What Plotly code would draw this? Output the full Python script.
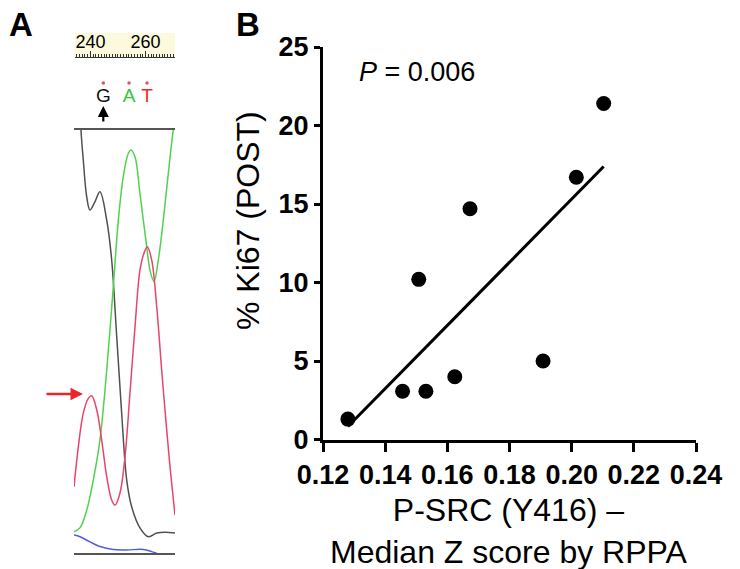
import numpy as np
import plotly.graph_objects as go

FONT = "Liberation Sans"

# Panel A: chromatogram traces (scan position, signal intensity)
g_scan = [5.8, 6.9, 9.2, 12.6, 15.8, 20.8, 25.7, 32.4, 37.3, 42.3, 47.2, 52.2, 57.1, 65.3, 73.6, 81.9, 90.1, 100]
g_int = [1080, 1000, 929, 842, 811, 831, 854, 787, 693, 512, 331, 173, 110, 60, 39, 48, 50, 48]
a_scan = [0, 5.9, 12.6, 19.1, 25.7, 32.4, 38.9, 43.9, 48.8, 53.8, 56.4, 60.4, 65.3, 72.0, 75.2, 79.2, 83.5, 88.4, 93.4, 98.3, 100.9]
a_int = [51, 60, 102, 173, 268, 433, 630, 787, 890, 945, 953, 937, 850, 724, 669, 642, 693, 787, 898, 1000, 1035]
t_scan = [0, 4.3, 9.2, 14.2, 17.5, 22.5, 27.4, 32.4, 37.3, 40.6, 45.5, 50.5, 55.4, 60.4, 65.3, 69.3, 72.6, 76.9, 81.9, 86.8, 91.8, 95.7, 100]
t_int = [157, 252, 331, 366, 372, 339, 268, 181, 126, 114, 142, 228, 378, 535, 669, 709, 724, 693, 583, 433, 291, 189, 90]
c_scan = [0, 5.9, 15.8, 25.7, 38.9, 52.2, 68.6, 76.9, 81.9]
c_int = [43, 39, 27, 16, 9, 8, 9, 4, 0]

base_letters = ["G", "A", "T"]
base_scan = [29, 54.5, 72.3]
base_colors = ["#111111", "#33c633", "#ee2b2b"]
ruler_labels = [240, 260]

# Panel B: P-SRC vs Ki67
psrc = [0.128, 0.1456, 0.1531, 0.1508, 0.1624, 0.1673, 0.1908, 0.2015, 0.2103]
ki67 = [1.3, 3.07, 3.07, 10.2, 4.0, 14.7, 5.0, 16.7, 21.4]
x_ticks = [0.12, 0.14, 0.16, 0.18, 0.20, 0.22, 0.24]

# page has an 8px body margin, so the figure is shrunk and positions offset
OFF = 8
W, H = 740 - OFF, 569 - OFF
CALL_LETTER_ROW, CALL_DOT_ROW = 0.37, 0.77  # rows inside the base-call strip


def px(x):
    return (x - OFF) / W


def py(y):
    return 1 - (y - OFF) / H


fig = go.Figure()

for xs, ys, color in [
    (c_scan, c_int, "#4f5fd8"),
    (g_scan, g_int, "#505050"),
    (a_scan, a_int, "#4fd24f"),
    (t_scan, t_int, "#e8446e"),
]:
    fig.add_trace(go.Scatter(
        x=xs, y=ys, mode="lines", line=dict(color=color, width=1.5, shape="spline"),
        xaxis="x2", yaxis="y2", hoverinfo="skip", showlegend=False,
    ))

# base calls above the peaks, in their own strip sharing the scan axis scale
fig.add_trace(go.Scatter(
    x=base_scan, y=[CALL_LETTER_ROW] * len(base_scan), mode="text", text=base_letters,
    textfont=dict(family=FONT, size=19, color=base_colors),
    xaxis="x4", yaxis="y4", hoverinfo="skip", showlegend=False,
))
fig.add_trace(go.Scatter(
    x=base_scan, y=[CALL_DOT_ROW] * len(base_scan), mode="markers",
    marker=dict(color="#e0506a", size=3.5),
    xaxis="x4", yaxis="y4", hoverinfo="skip", showlegend=False,
))

fig.add_trace(go.Scatter(
    x=ruler_labels, y=[0.5, 0.5], mode="none", xaxis="x3", yaxis="y3",
    hoverinfo="skip", showlegend=False,
))

slope, intercept = np.polyfit(psrc, ki67, 1)
fit_x = np.array([min(psrc), max(psrc)])
fig.add_trace(go.Scatter(
    x=fit_x, y=slope * fit_x + intercept, mode="lines",
    line=dict(color="black", width=3), showlegend=False,
))
fig.add_trace(go.Scatter(
    x=psrc, y=ki67, mode="markers",
    marker=dict(color="black", size=15), showlegend=False,
))

axis_b = dict(
    showline=True, linecolor="black", linewidth=3, ticks="outside",
    tickwidth=3, tickcolor="black", showgrid=False, zeroline=False,
    automargin=False,
    tickfont=dict(family=FONT, size=27, color="black", weight="bold"),
)

fig.update_layout(
    template="none",
    width=W, height=H, margin=dict(l=0, r=0, t=0, b=0, pad=0),
    paper_bgcolor="white", plot_bgcolor="rgba(0,0,0,0)",
    font=dict(family=FONT, color="black"),
    xaxis=dict(domain=[px(323), px(696)], range=[0.12, 0.24], anchor="y",
               tickvals=x_ticks, tickformat=".2f", ticklen=9, **axis_b),
    yaxis=dict(domain=[py(439.5), py(47)], range=[0, 25], anchor="x",
               dtick=5, ticklen=6, **axis_b),
    xaxis2=dict(domain=[px(74), px(175)], range=[0, 100], anchor="y2",
                showline=True, mirror=True, linecolor="#555555", linewidth=2,
                showticklabels=False, ticks="", showgrid=False, zeroline=False,
                automargin=False),
    yaxis2=dict(domain=[py(553.3), py(130)], range=[0, 1000], anchor="x2",
                visible=False, automargin=False),
    xaxis3=dict(domain=[px(75), px(175)], range=[234.4, 270.7], anchor="y3",
                showline=True, linecolor="#333333", linewidth=1,
                tickvals=ruler_labels, ticks="inside", ticklen=6, tickwidth=1,
                tickcolor="#333333", ticklabelposition="inside",
                tickfont=dict(family=FONT, size=18, color="black"),
                minor=dict(dtick=1, tick0=0, ticks="inside", ticklen=3,
                           tickwidth=1, tickcolor="#333333"),
                showgrid=False, zeroline=False, automargin=False),
    yaxis3=dict(domain=[py(57), py(33)], range=[0, 1], anchor="x3", visible=False,
                automargin=False),
    xaxis4=dict(domain=[px(74), px(175)], range=[0, 100], anchor="y4",
                visible=False, automargin=False),
    yaxis4=dict(domain=[py(110), py(75)], range=[0, 1], anchor="x4",
                visible=False, automargin=False),
    shapes=[dict(type="rect", xref="x3 domain", yref="y3 domain", x0=0, x1=1,
                 y0=0, y1=1, fillcolor="#fcf9dc", line=dict(width=0), layer="below")],
)


def note(text, x, y, size, xref="paper", color="black", **kw):
    return dict(text=text, x=x, y=y, xref=xref, yref="paper", showarrow=False,
                xanchor="center", yanchor="middle",
                font=dict(size=size, family=FONT, color=color), **kw)


ann = [
    note("<b>A</b>", px(21), py(25), 33),
    note("<b>B</b>", px(248), py(25), 33),
    note("<i>P</i> = 0.006", px(417), py(72), 27),
    note("% Ki67 (POST)", px(248), py(220), 32, textangle=-90),
    note("P-SRC (Y416) –<br>Median Z score by RPPA", px(509.5), py(531), 32),
]
ann.append(dict(text="", x=base_scan[0], y=py(106), xref="x2", yref="paper",
                showarrow=True, ax=0, ay=17, arrowhead=2, arrowsize=1,
                arrowwidth=2.2, arrowcolor="black"))
ann.append(dict(text="", x=px(83), y=py(394), xref="paper", yref="paper",
                showarrow=True, ax=-38, ay=0, arrowhead=2, arrowsize=1,
                arrowwidth=2.5, arrowcolor="#e8262e"))
fig.update_layout(annotations=ann)

fig.write_html("out.html")
